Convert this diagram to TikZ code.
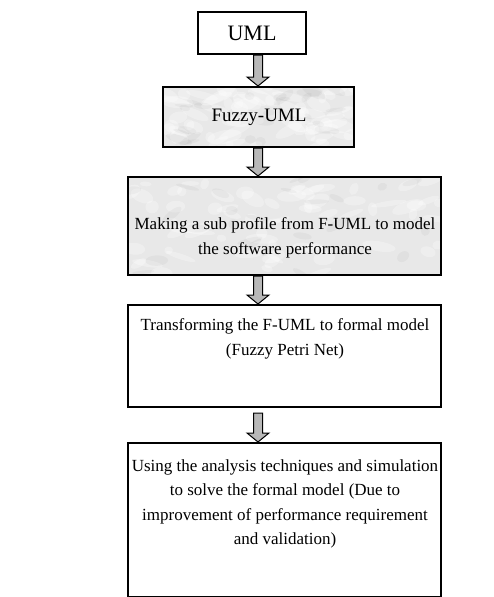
\documentclass[tikz,border=0pt]{standalone}
\usepackage{fontspec}
\setmainfont{Liberation Serif}
\usetikzlibrary{calc}
\begin{document}
\begin{tikzpicture}[x=1pt,y=-1pt,
  boxline/.style={draw=black,line width=1.6pt},
  textured/.style={fill=black!9},
  blob/.style={fill=white,opacity=0.3},
  dblob/.style={fill=black,opacity=0.03},
  flowtext/.style={font=\fontsize{17}{24.5}\selectfont,align=center,inner sep=0pt},
  blockarrow/.style={draw=black,line width=1pt,fill=black!28,line join=miter}]
\useasboundingbox (0,0) rectangle (494,597);
\pgfmathsetseed{7}
\newcommand{\marble}[4]{% x1 y1 x2 y2
  \begin{scope}
    \clip (#1,#2) rectangle (#3,#4);
    \foreach \i in {1,...,70}{
      \pgfmathsetmacro{\bx}{#1+rnd*(#3-#1)}
      \pgfmathsetmacro{\by}{#2+rnd*(#4-#2)}
      \pgfmathsetmacro{\brx}{4+rnd*14}
      \pgfmathsetmacro{\bry}{2+rnd*5}
      \pgfmathsetmacro{\ang}{-30+rnd*60}
      \fill[blob,rotate around={\ang:(\bx,\by)}] (\bx,\by) ellipse [x radius=\brx, y radius=\bry];
    }
    \foreach \i in {1,...,25}{
      \pgfmathsetmacro{\bx}{#1+rnd*(#3-#1)}
      \pgfmathsetmacro{\by}{#2+rnd*(#4-#2)}
      \pgfmathsetmacro{\brx}{4+rnd*10}
      \pgfmathsetmacro{\bry}{1.5+rnd*4}
      \pgfmathsetmacro{\ang}{-40+rnd*80}
      \fill[dblob,rotate around={\ang:(\bx,\by)}] (\bx,\by) ellipse [x radius=\brx, y radius=\bry];
    }
  \end{scope}}
% boxes
\draw[boxline] (198,12) rectangle (306,54);
\node[font=\fontsize{22}{26}\selectfont,inner sep=0pt] (uml) at (252,33) {UML};
\coordinate (umlS) at (258,55);

\fill[textured] (163,87) rectangle (354,147);
\marble{163}{87}{354}{147}
\draw[boxline] (163,87) rectangle (354,147);
\node[font=\fontsize{19}{23}\selectfont,inner sep=0pt] (fuml) at (259,117) {Fuzzy-UML};
\coordinate (fumlN) at (258,86);
\coordinate (fumlS) at (258,148);

\fill[textured] (128,177) rectangle (441,275);
\marble{128}{177}{441}{275}
\draw[boxline] (128,177) rectangle (441,275);
\node[flowtext] (prof) at (285,238) {Making a sub profile from F-UML to model\\the software performance};
\coordinate (profN) at (258,176);
\coordinate (profS) at (258,276);

\draw[boxline] (128,305) rectangle (441,407);
\node[flowtext] (trans) at (285,339) {Transforming the F-UML to formal model\\(Fuzzy Petri Net)};
\coordinate (transN) at (258,304);
\coordinate (transS) at (258,413);

\draw[boxline] (128,443) rectangle (441,597);
\node[flowtext] (use) at (285,504) {Using the analysis techniques and simulation\\to solve the formal model (Due to\\improvement of performance requirement\\and validation)};
\coordinate (useN) at (258,442);

% block arrows
\newcommand{\blkarrow}[2]{%
  \draw[blockarrow] ($(#1)+(-4.5,0)$) -- ($(#2)+(-4.5,-9)$) -- ($(#2)+(-11,-9)$) -- (#2)
     -- ($(#2)+(11,-9)$) -- ($(#2)+(4.5,-9)$) -- ($(#1)+(4.5,0)$) -- cycle;}
\blkarrow{umlS}{fumlN}
\blkarrow{fumlS}{profN}
\blkarrow{profS}{transN}
\blkarrow{transS}{useN}
\end{tikzpicture}
\end{document}
